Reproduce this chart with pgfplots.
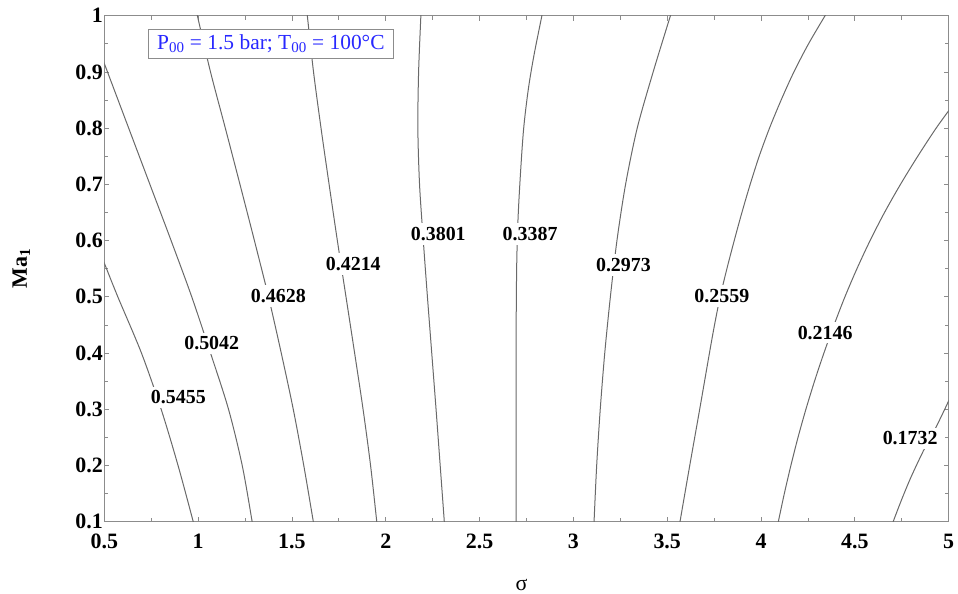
\documentclass[border=0pt]{standalone}
\usepackage{fontspec}
\setmainfont{Liberation Serif}
\usepackage{pgfplots}
\pgfplotsset{compat=1.18}
\definecolor{framegray}{RGB}{140,140,140}
\definecolor{linegray}{RGB}{105,105,105}
\definecolor{boxblue}{RGB}{40,40,255}
\begin{document}
\begin{tikzpicture}
\useasboundingbox (0,0) rectangle (958bp,594bp);
\begin{axis}[
  at={(104.3bp,72.3bp)}, anchor=south west,
  scale only axis, width=844.4bp, height=506bp,
  xmin=0.5, xmax=5, ymin=0.1, ymax=1,
  xtick={0.5,1,1.5,2,2.5,3,3.5,4,4.5,5},
  ytick={0.1,0.2,0.3,0.4,0.5,0.6,0.7,0.8,0.9,1},
  minor tick num=1,
  tick align=inside,
  major tick length=5bp, minor tick length=4bp,
  axis line style={framegray, line width=1.2bp},
  every tick/.style={framegray, line width=0.8bp},
  ticklabel style={font=\fontsize{22}{24}\selectfont\bfseries, /pgf/number format/assume math mode=true},
  xticklabel style={yshift=-9bp},
  yticklabel style={xshift=2bp},
  xlabel={σ},
  xlabel style={at={(axis description cs:0.494,-0.1245)}, anchor=center, font=\fontsize{22}{24}\selectfont},
  ylabel={\textbf{Ma\textsubscript{1}}},
  ylabel style={at={(axis description cs:-0.0983,0.5)}, anchor=center, font=\fontsize{22}{24}\selectfont},
  cycle list={{linegray}},
  every axis plot post/.append style={linegray, solid, line width=1bp, smooth, mark=none},
]
% 0.5455
\addplot coordinates {(0.485,0.573) (0.5,0.56) (0.572,0.5) (0.698,0.4) (0.803,0.3) (0.893,0.2) (0.974,0.1) (0.981,0.09)};
% 0.5042
\addplot coordinates {(0.49,0.924) (0.5,0.915) (0.63,0.8) (0.743,0.7) (0.856,0.6) (0.966,0.5) (1.066,0.4) (1.162,0.3) (1.235,0.2) (1.288,0.1) (1.293,0.09)};
% 0.4628
\addplot coordinates {(0.989,1.01) (0.996,1.0) (1.066,0.9) (1.145,0.8) (1.223,0.7) (1.300,0.6) (1.375,0.5) (1.443,0.4) (1.507,0.3) (1.563,0.2) (1.614,0.1) (1.619,0.09)};
% 0.4214
\addplot coordinates {(1.579,1.01) (1.582,1.0) (1.615,0.9) (1.655,0.8) (1.698,0.7) (1.742,0.6) (1.788,0.5) (1.834,0.4) (1.879,0.3) (1.919,0.2) (1.952,0.1) (1.955,0.09)};
% 0.3801
\addplot coordinates {(2.188,1.01) (2.187,1.0) (2.175,0.9) (2.171,0.8) (2.18,0.7) (2.2,0.6) (2.222,0.5) (2.245,0.4) (2.268,0.3) (2.29,0.2) (2.312,0.1) (2.314,0.09)};
% 0.3387
\addplot coordinates {(2.838,1.01) (2.832,1.0) (2.79,0.93) (2.76,0.87) (2.735,0.8) (2.718,0.72) (2.705,0.64) (2.698,0.56) (2.695,0.45) (2.695,0.3) (2.695,0.1) (2.695,0.09)};
% 0.2973
\addplot coordinates {(3.526,1.01) (3.517,1.0) (3.425,0.9) (3.34,0.8) (3.278,0.7) (3.232,0.6) (3.197,0.5) (3.167,0.4) (3.143,0.3) (3.124,0.2) (3.11,0.1) (3.109,0.09)};
% 0.2559
\addplot coordinates {(4.359,1.01) (4.341,1.0) (4.253,0.95) (4.175,0.9) (4.107,0.85) (4.045,0.8) (3.99,0.75) (3.942,0.7) (3.898,0.65) (3.857,0.6) (3.818,0.55) (3.782,0.5) (3.752,0.45) (3.725,0.4) (3.673,0.3) (3.62,0.2) (3.568,0.1) (3.563,0.09)};
% 0.2146
\addplot coordinates {(5.02,0.84) (4.933,0.8) (4.835,0.75) (4.743,0.7) (4.658,0.65) (4.581,0.6) (4.511,0.55) (4.447,0.5) (4.389,0.45) (4.335,0.4) (4.285,0.35) (4.239,0.3) (4.197,0.25) (4.159,0.2) (4.124,0.15) (4.092,0.1) (4.086,0.09)};
% 0.1732
\addplot coordinates {(5.02,0.33) (5.0,0.315) (4.95,0.28) (4.9,0.247) (4.865,0.226) (4.8,0.18) (4.75,0.14) (4.704,0.1) (4.695,0.09)};

\begin{scope}[every node/.style={fill=white, inner xsep=2bp, inner ysep=4bp, font=\fontsize{20}{22}\selectfont\bfseries, text=black}]
\node at (axis cs:0.8945,0.3213) {0.5455};
\node at (axis cs:1.0725,0.4173) {0.5042};
\node at (axis cs:1.4275,0.5014) {0.4628};
\node at (axis cs:1.827,0.5583) {0.4214};
\node at (axis cs:2.280,0.6117) {0.3801};
\node at (axis cs:2.769,0.6117) {0.3387};
\node at (axis cs:3.2666,0.5566) {0.2973};
\node at (axis cs:3.791,0.5014) {0.2559};
\node at (axis cs:4.3417,0.4362) {0.2146};
\node at (axis cs:4.7946,0.2483) {0.1732};
\end{scope}
\node[draw=framegray, fill=white, line width=0.8bp, anchor=north west,
  minimum width=244.4bp, minimum height=28.4bp, inner sep=0pt,
  font=\fontsize{21.5}{22}\selectfont, text=boxblue]
  at (axis cs:0.7345,0.9758) {P\textsubscript{00} = 1.5 bar; T\textsubscript{00} = 100°C};
\end{axis}
\end{tikzpicture}
\end{document}
